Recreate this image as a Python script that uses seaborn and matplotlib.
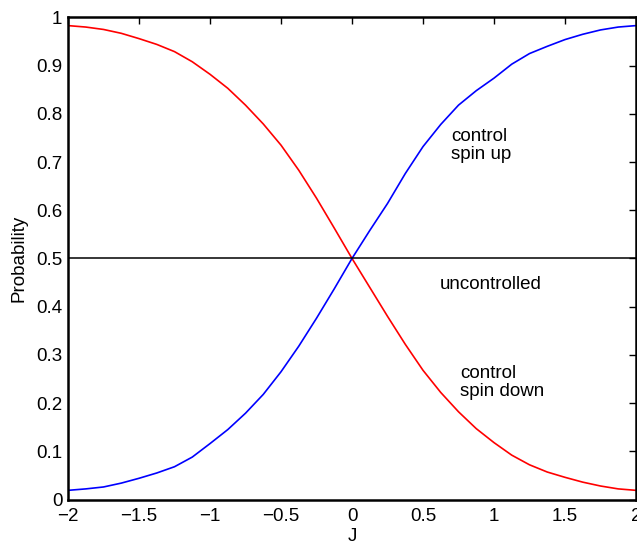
import matplotlib
matplotlib.use("Agg")
import matplotlib.pyplot as plt
import numpy as np
import pandas as pd
import seaborn as sns

# data
j_values = [-2.0, -1.875, -1.75, -1.625, -1.5, -1.375, -1.25, -1.125, -1.0,
            -0.875, -0.75, -0.625, -0.5, -0.375, -0.25, -0.125, 0.0,
            0.125, 0.25, 0.375, 0.5, 0.625, 0.75, 0.875, 1.0,
            1.125, 1.25, 1.375, 1.5, 1.625, 1.75, 1.875, 2.0]

spin_up = [0.019, 0.022, 0.026, 0.034, 0.044, 0.055, 0.068, 0.088, 0.116,
           0.145, 0.179, 0.218, 0.265, 0.318, 0.376, 0.437, 0.500,
           0.558, 0.614, 0.676, 0.732, 0.778, 0.818, 0.848, 0.874,
           0.903, 0.925, 0.940, 0.954, 0.965, 0.974, 0.980, 0.983]

spin_down = [0.983, 0.980, 0.975, 0.967, 0.956, 0.944, 0.929, 0.908, 0.882,
             0.853, 0.818, 0.779, 0.735, 0.683, 0.625, 0.563, 0.500,
             0.440, 0.380, 0.322, 0.268, 0.222, 0.182, 0.147, 0.118,
             0.092, 0.072, 0.057, 0.046, 0.036, 0.028, 0.022, 0.019]

uncontrolled = [0.5] * len(j_values)

x_ticks = [-2, -1.5, -1, -0.5, 0, 0.5, 1, 1.5, 2]
x_ticklabels = ["\u22122", "\u22121.5", "\u22121", "\u22120.5", "0", "0.5", "1", "1.5", "2"]
y_ticks = [0, 0.1, 0.2, 0.3, 0.4, 0.5, 0.6, 0.7, 0.8, 0.9, 1]
y_ticklabels = ["0", "0.1", "0.2", "0.3", "0.4", "0.5", "0.6", "0.7", "0.8", "0.9", "1"]

df = pd.DataFrame({"J": j_values, "up": spin_up, "down": spin_down, "unc": uncontrolled})

sns.set_theme(style="white")
plt.rcParams["font.family"] = ["Liberation Sans", "DejaVu Sans"]
plt.rcParams["axes.unicode_minus"] = True
plt.rcParams["text.color"] = "black"
plt.rcParams["axes.labelcolor"] = "black"

fs = 13.5

fig = plt.figure(figsize=(6.37, 5.44), dpi=100)
ax = fig.add_axes([0.1068, 0.0818, 0.8916, 0.8862])

sns.lineplot(data=df, x="J", y="down", color="#ff0000", lw=1.2, ax=ax)
sns.lineplot(data=df, x="J", y="up", color="#0000ff", lw=1.2, ax=ax)
sns.lineplot(data=df, x="J", y="unc", color="black", lw=1.1, ax=ax)

ax.set_xlim(-2, 2)
ax.set_ylim(0, 1)
ax.set_xticks(x_ticks)
ax.set_xticklabels(x_ticklabels)
ax.set_yticks(y_ticks)
ax.set_yticklabels(y_ticklabels)
ax.tick_params(direction="in", length=5, width=1, colors="black",
               top=True, right=True, labelsize=fs)
ax.tick_params(axis="x", pad=6)
ax.tick_params(axis="y", pad=4)
for s in ax.spines.values():
    s.set_visible(True)
    s.set_color("black")
    s.set_linewidth(1.8)

ax.set_xlabel("J", fontsize=fs, labelpad=2)
ax.set_ylabel("Probability", fontsize=fs, labelpad=6)

ax.text(0.70, 0.735, "control\nspin up", fontsize=fs, va="center", ha="left", linespacing=1.1)
ax.text(0.62, 0.445, "uncontrolled", fontsize=fs, va="center", ha="left")
ax.text(0.76, 0.242, "control\nspin down", fontsize=fs, va="center", ha="left", linespacing=1.1)

fig.savefig("out.png", dpi=100)
